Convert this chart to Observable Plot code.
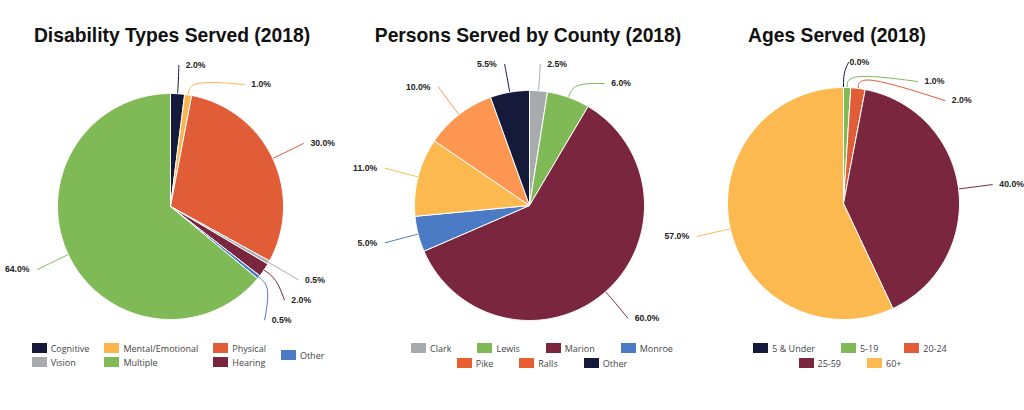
<!DOCTYPE html>
<html>
<head>
<meta charset="utf-8">
<script src="https://cdn.jsdelivr.net/npm/d3@7"></script>
<script src="https://cdn.jsdelivr.net/npm/@observablehq/plot@0.6"></script>
<style>
  body { margin: 0; background: #fff; }
  #wrap { position: relative; width: 1024px; height: 410px; overflow: hidden; background: #fff;
          font-family: "Liberation Sans", Arial, sans-serif; }
  .title { position: absolute; top: 26px; width: 400px; height: 20px; line-height: 20px; text-align: center;
           font-weight: bold; font-size: 19.3px; color: #111; white-space: nowrap; }
  #chart { position: absolute; left: 0; top: 50px; }
  .legend { position: absolute; top: 343px; width: 400px; display: flex; justify-content: center;
            font-family: "Open Sans", sans-serif; font-size: 9px; color: #444; }
  .legend.rows { flex-direction: column; align-items: center; gap: 5px; }
  .legend.cols { flex-direction: row; align-items: center; gap: 15px; }
  .grp { display: flex; }
  .rows .grp { flex-direction: row; gap: 26px; }
  .cols .grp { flex-direction: column; gap: 4px; }
  .item { display: flex; align-items: center; gap: 4px; height: 10px; }
  .sw { width: 15px; height: 10px; display: inline-block; }
</style>
</head>
<body>
<div id="wrap"><div id="chart"></div></div>
<script>
// ---------- data ----------
const disabilityNames  = ["Cognitive", "Mental/Emotional", "Physical", "Vision", "Hearing", "Other", "Multiple"];
const disabilityValues = [2.0, 1.0, 30.0, 0.5, 2.0, 0.5, 64.0];
const disabilityColors = ["#151a3b", "#fcb54d", "#e05d37", "#a9aaad", "#7a263e", "#4a7bc4", "#80ba57"];

const countyNames        = ["Clark", "Lewis", "Marion", "Monroe", "Pike", "Ralls", "Other"];
const countyValues       = [2.5, 6.0, 60.0, 5.0, 11.0, 10.0, 5.5];
const countyColors       = ["#a9aaad", "#80ba57", "#7a263e", "#4a7bc4", "#fcb94f", "#fd9650", "#151a3b"];
const countyLegendColors = ["#a9aaad", "#80ba57", "#7a263e", "#4a7bc4", "#e75f30", "#e75f30", "#151a3b"];

const ageNames  = ["5 & Under", "5-19", "20-24", "25-59", "60+"];
const ageValues = [0.0, 1.0, 2.0, 40.0, 57.0];
const ageColors = ["#151a3b", "#80ba57", "#e05d37", "#7a263e", "#fcb94f"];

const titles = ["Disability Types Served (2018)", "Persons Served by County (2018)", "Ages Served (2018)"];

// ---------- layout ----------
const charts = [
  { title: titles[0], names: disabilityNames, values: disabilityValues, colors: disabilityColors,
    legendColors: disabilityColors, cx: 170, cy: 206, r: 113, titleX: 172,
    legend: { mode: "cols", cx: 178, groups: [["Cognitive", "Vision"], ["Mental/Emotional", "Multiple"], ["Physical", "Hearing"], ["Other"]] } },
  { title: titles[1], names: countyNames, values: countyValues, colors: countyColors,
    legendColors: countyLegendColors, cx: 529, cy: 205, r: 115, titleX: 528,
    legend: { mode: "rows", cx: 542, groups: [["Clark", "Lewis", "Marion", "Monroe"], ["Pike", "Ralls", "Other"]] } },
  { title: titles[2], names: ageNames, values: ageValues, colors: ageColors,
    legendColors: ageColors, cx: 843, cy: 203, r: 116, titleX: 837,
    legend: { mode: "rows", cx: 850, groups: [["5 & Under", "5-19", "20-24"], ["25-59", "60+"]] } }
];

const svgTop = 50, svgH = 290;
const fmt = d3.format(".1f");

const slicePts = [], connPts = [], labels = [];
const colorDomain = [], colorRange = [];

charts.forEach((c, ci) => {
  c.names.forEach((n, i) => { colorDomain.push(ci + ":" + i); colorRange.push(c.colors[i]); });
  const total = d3.sum(c.values);
  let a = 0;
  const sl = c.values.map((v, i) => {
    const a0 = a; a += v / total * 2 * Math.PI;
    return { i, v, a0, a1: a, mid: (a0 + a) / 2, key: ci + ":" + i };
  });
  // wedges
  sl.forEach(s => {
    if (s.v <= 0) return;
    const n = Math.max(2, Math.ceil((s.a1 - s.a0) / (Math.PI / 180)));
    slicePts.push({ key: s.key, x: c.cx, y: c.cy });
    for (let k = 0; k <= n; k++) {
      const t = s.a0 + (s.a1 - s.a0) * k / n;
      slicePts.push({ key: s.key, x: c.cx + c.r * Math.sin(t), y: c.cy - c.r * Math.cos(t) });
    }
    slicePts.push({ key: s.key, x: c.cx, y: c.cy });
  });
  // labels
  const R = c.r + 35;
  const labs = sl.map(s => ({ key: s.key, text: fmt(s.v) + "%", mid: s.mid,
    side: s.mid <= Math.PI ? 1 : -1, y0: c.cy - R * Math.cos(s.mid) }));
  [1, -1].forEach(side => {
    const g = labs.filter(l => l.side === side)
      .sort((p, q) => (p.y0 - q.y0) || (side * (p.mid - q.mid)));
    let prev = -Infinity;
    g.forEach(l => { l.y1 = Math.max(l.y0, prev + 20); prev = l.y1; });
    prev = -Infinity;
    g.forEach(l => {
      l.y = Math.max(l.y1, c.cy - 141, prev + 19); prev = l.y;
      const dy = l.y1 - c.cy;
      const s = Math.sqrt(Math.max(0, R * R - dy * dy));
      l.x = c.cx + side * (s + (side > 0 ? 6 : 7));
      const ex = c.cx + side * Math.max(s - 1, 5);
      connPts.push({ key: l.key, x: c.cx + c.r * Math.sin(l.mid), y: c.cy - c.r * Math.cos(l.mid) });
      connPts.push({ key: l.key, x: c.cx + (c.r + 15) * Math.sin(l.mid), y: c.cy - (c.r + 15) * Math.cos(l.mid) });
      connPts.push({ key: l.key, x: ex, y: l.y });
      labels.push(l);
    });
  });

  // title
  const t = document.createElement("div");
  t.className = "title";
  t.style.left = (c.titleX - 200) + "px";
  t.textContent = c.title;
  document.getElementById("wrap").appendChild(t);

  // legend
  const lg = document.createElement("div");
  lg.className = "legend " + c.legend.mode;
  lg.style.left = (c.legend.cx - 200) + "px";
  c.legend.groups.forEach(grp => {
    const gd = document.createElement("div");
    gd.className = "grp";
    grp.forEach(name => {
      const idx = c.names.indexOf(name);
      const it = document.createElement("div");
      it.className = "item";
      const sw = document.createElement("span");
      sw.className = "sw";
      sw.style.background = c.legendColors[idx];
      const tx = document.createElement("span");
      tx.textContent = name;
      it.appendChild(sw); it.appendChild(tx);
      gd.appendChild(it);
    });
    lg.appendChild(gd);
  });
  document.getElementById("wrap").appendChild(lg);
});

const plot = Plot.plot({
  width: 1024,
  height: svgH,
  margin: 0,
  style: { fontFamily: "'Liberation Sans', Arial, sans-serif", background: "transparent" },
  x: { domain: [0, 1024], range: [0, 1024], axis: null },
  y: { domain: [svgTop, svgTop + svgH], range: [0, svgH], axis: null },
  color: { domain: colorDomain, range: colorRange },
  marks: [
    Plot.line(connPts, { x: "x", y: "y", z: "key", stroke: "key", strokeWidth: 1, curve: "basis" }),
    Plot.line(slicePts, { x: "x", y: "y", z: "key", fill: "key", stroke: "white", strokeWidth: 1, curve: "linear", strokeLinejoin: "round" }),
    Plot.text(labels.filter(d => d.side > 0), { x: "x", y: "y", text: "text", textAnchor: "start",
      fontSize: 8.7, fontWeight: "bold", fill: "#222" }),
    Plot.text(labels.filter(d => d.side < 0), { x: "x", y: "y", text: "text", textAnchor: "end",
      fontSize: 8.7, fontWeight: "bold", fill: "#222" })
  ]
});
document.getElementById("chart").appendChild(plot);
</script>
</body>
</html>
